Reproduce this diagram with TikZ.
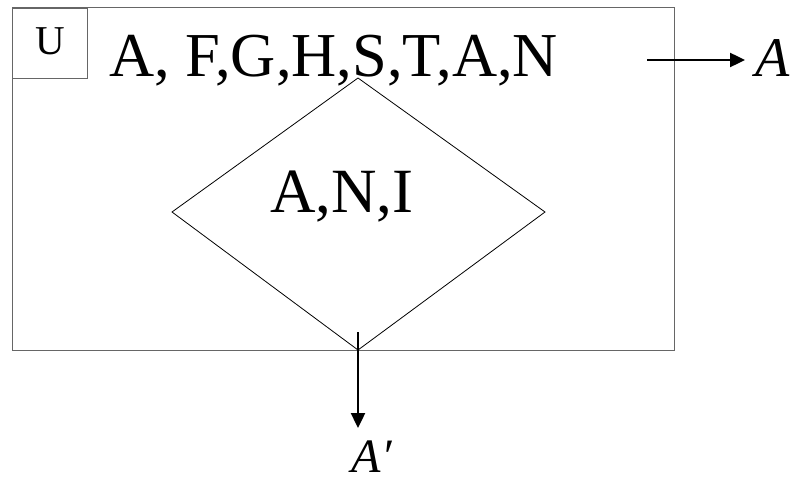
\documentclass[tikz,border=0pt]{standalone}
\usepackage{fontspec}
\setmainfont{Liberation Serif}
\usetikzlibrary{arrows.meta}
\tikzset{
  frame/.style={draw=black!60, line width=1pt},
  conn/.style={-{Triangle[length=15pt,width=14pt]}, line width=2.4pt},
}
\begin{document}
\begin{tikzpicture}[x=1pt,y=-1pt]
        \useasboundingbox (0,0) rectangle (791,484);
        \draw[frame] (12,8) rectangle (674,350);
        \node[frame, anchor=north west, minimum width=75pt, minimum height=70pt, inner sep=0pt] (ubox) at (12,8) {};
        \node[anchor=base, inner sep=0pt, font=\fontsize{41}{41}\selectfont] (u) at (ubox.center |- 0,55) {U};
        \node[anchor=base west, inner sep=0pt, font=\fontsize{62.5}{62.5}\selectfont] (set) at (109,77) {A, F,G,H,S,T,A,N};

        % diamond
        \coordinate (top) at (358,78);
        \coordinate (right) at (545,212);
        \coordinate (bot) at (358,350);
        \coordinate (left) at (172,212);
        \draw[line width=0.8pt] (top) -- (right) -- (bot) -- (left) -- cycle;
        \node[anchor=base, inner sep=0pt, font=\fontsize{63}{63}\selectfont] (inner) at (342,212) {A,N,I};

        % arrows
        \coordinate (r1) at (647,60);
        \coordinate (r2) at (745,60);
        \draw[conn] (r1) -- (r2);
        \node[anchor=base west, inner sep=0pt, font=\fontsize{56}{56}\selectfont\itshape] (A) at (755,77) {A};

        \coordinate (d1) at (358,332);
        \coordinate (d2) at (358,428);
        \draw[conn] (d1) -- (d2);
        \node[anchor=base, inner sep=0pt, text depth=0pt, font=\fontsize{48}{48}\selectfont\itshape] (Ac) at (372,472) {A\kern1pt′};
    \end{tikzpicture}
\end{document}
